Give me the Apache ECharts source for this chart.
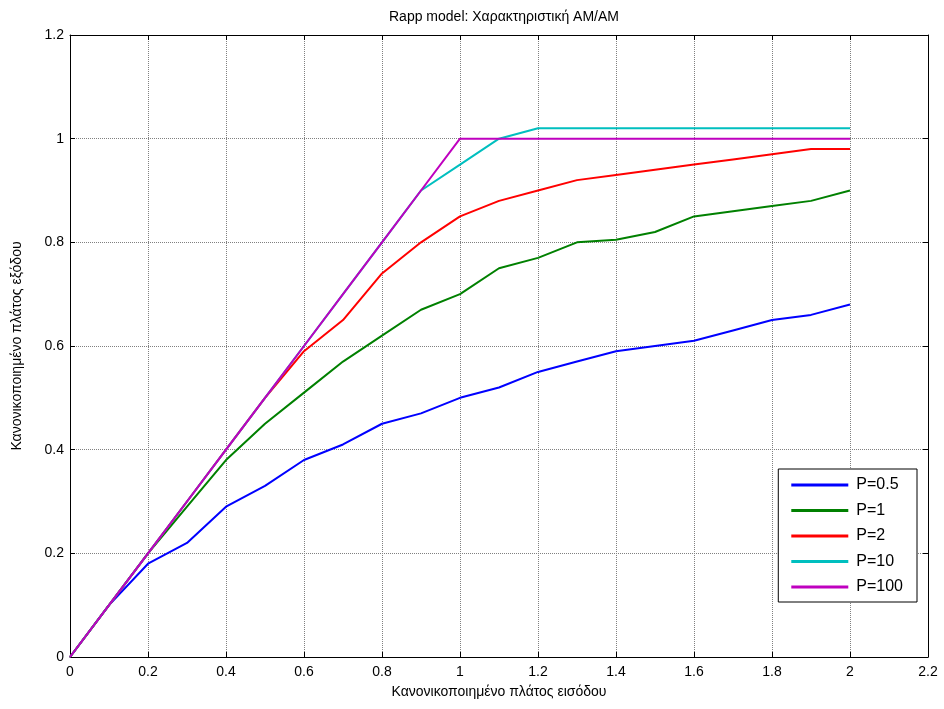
<!DOCTYPE html>
<html><head><meta charset="utf-8">
<script src="https://cdn.jsdelivr.net/npm/echarts@6/dist/echarts.min.js"></script>
<style>html,body{margin:0;padding:0;background:#fff}#c{width:944px;height:709px}</style>
</head><body><div id="c"></div>
<script>
const xValues = [0,0.1,0.2,0.3,0.4,0.5,0.6,0.7,0.8,0.9,1.0,1.1,1.2,1.3,1.4,1.5,1.6,1.7,1.8,1.9,2.0];
const p05 = [0,0.10,0.18,0.22,0.29,0.33,0.38,0.41,0.45,0.47,0.50,0.52,0.55,0.57,0.59,0.60,0.61,0.63,0.65,0.66,0.68];
const p1  = [0,0.10,0.20,0.29,0.38,0.45,0.51,0.57,0.62,0.67,0.70,0.75,0.77,0.80,0.805,0.82,0.85,0.86,0.87,0.88,0.90];
const p2  = [0,0.10,0.20,0.30,0.40,0.50,0.59,0.65,0.74,0.80,0.85,0.88,0.90,0.92,0.93,0.94,0.95,0.96,0.97,0.98,0.98];
const p10 = [0,0.10,0.20,0.30,0.40,0.50,0.60,0.70,0.80,0.90,0.95,1.00,1.02,1.02,1.02,1.02,1.02,1.02,1.02,1.02,1.02];
const p100= [0,0.10,0.20,0.30,0.40,0.50,0.60,0.70,0.80,0.90,1.00,1.00,1.00,1.00,1.00,1.00,1.00,1.00,1.00,1.00,1.00];
const seriesNames = ['P=0.5','P=1','P=2','P=10','P=100'];
const seriesData = [p05,p1,p2,p10,p100];
const colors = ['#0000FF','#008000','#FF0000','#00BFBF','#BF00BF'];
const titleText = 'Rapp model: Χαρακτηριστική AM/AM';
const xName = 'Κανονικοποιημένο πλάτος εισόδου';
const yName = 'Κανονικοποιημένο πλάτος εξόδου';

const font = 'Liberation Sans, Arial, sans-serif';
const fmt = v => String(+v.toFixed(1));
const chart = echarts.init(document.getElementById('c'));
const baseAxis = {
  axisLine:{show:true,onZero:false,lineStyle:{color:'#000',width:1}},
  axisTick:{show:true,inside:true,length:5,lineStyle:{color:'#000'}},
};
chart.setOption({
  animation:false,
  backgroundColor:'#fff',
  textStyle:{fontFamily:font},
  title:{text:titleText,left:499,textAlign:'center',top:5,textStyle:{fontSize:14,fontWeight:'normal',color:'#000',fontFamily:font}},
  grid:{left:70,right:16,top:35,bottom:52,containLabel:false},
  legend:{
    orient:'vertical',right:27,top:469,
    backgroundColor:'#fff',borderColor:'#000',borderWidth:1,
    padding:[8,14,7,13],itemGap:9.5,itemWidth:57,itemHeight:3,icon:'rect',
    textStyle:{fontSize:16,color:'#000',fontFamily:font,padding:[0,0,0,3]},
    data:seriesNames
  },
  xAxis:[
    Object.assign({type:'value',min:0,max:2.2,interval:0.2,position:'bottom',
      name:xName,nameLocation:'middle',nameGap:28,nameTextStyle:{fontSize:14,color:'#000',fontFamily:font},
      axisLabel:{color:'#000',fontSize:14,margin:8,formatter:fmt,fontFamily:font},
      splitLine:{show:true,lineStyle:{color:'#808080',type:'dotted',width:1}}},baseAxis),
    Object.assign({type:'value',min:0,max:2.2,interval:0.2,position:'top',
      axisLabel:{show:false},splitLine:{show:false}},baseAxis)
  ],
  yAxis:[
    Object.assign({type:'value',min:0,max:1.2,interval:0.2,position:'left',
      name:yName,nameLocation:'middle',nameGap:46,nameRotate:90,nameTextStyle:{fontSize:14,color:'#000',fontFamily:font},
      axisLabel:{color:'#000',fontSize:14,margin:6,formatter:fmt,fontFamily:font},
      splitLine:{show:true,lineStyle:{color:'#808080',type:'dotted',width:1}}},baseAxis),
    Object.assign({type:'value',min:0,max:1.2,interval:0.2,position:'right',
      axisLabel:{show:false},splitLine:{show:false}},baseAxis)
  ],
  series: seriesNames.map((n,i)=>({
    name:n,type:'line',symbol:'none',xAxisIndex:0,yAxisIndex:0,
    lineStyle:{color:colors[i],width:2},itemStyle:{color:colors[i]},
    data:xValues.map((x,j)=>[x,seriesData[i][j]])
  }))
});
</script></body></html>
